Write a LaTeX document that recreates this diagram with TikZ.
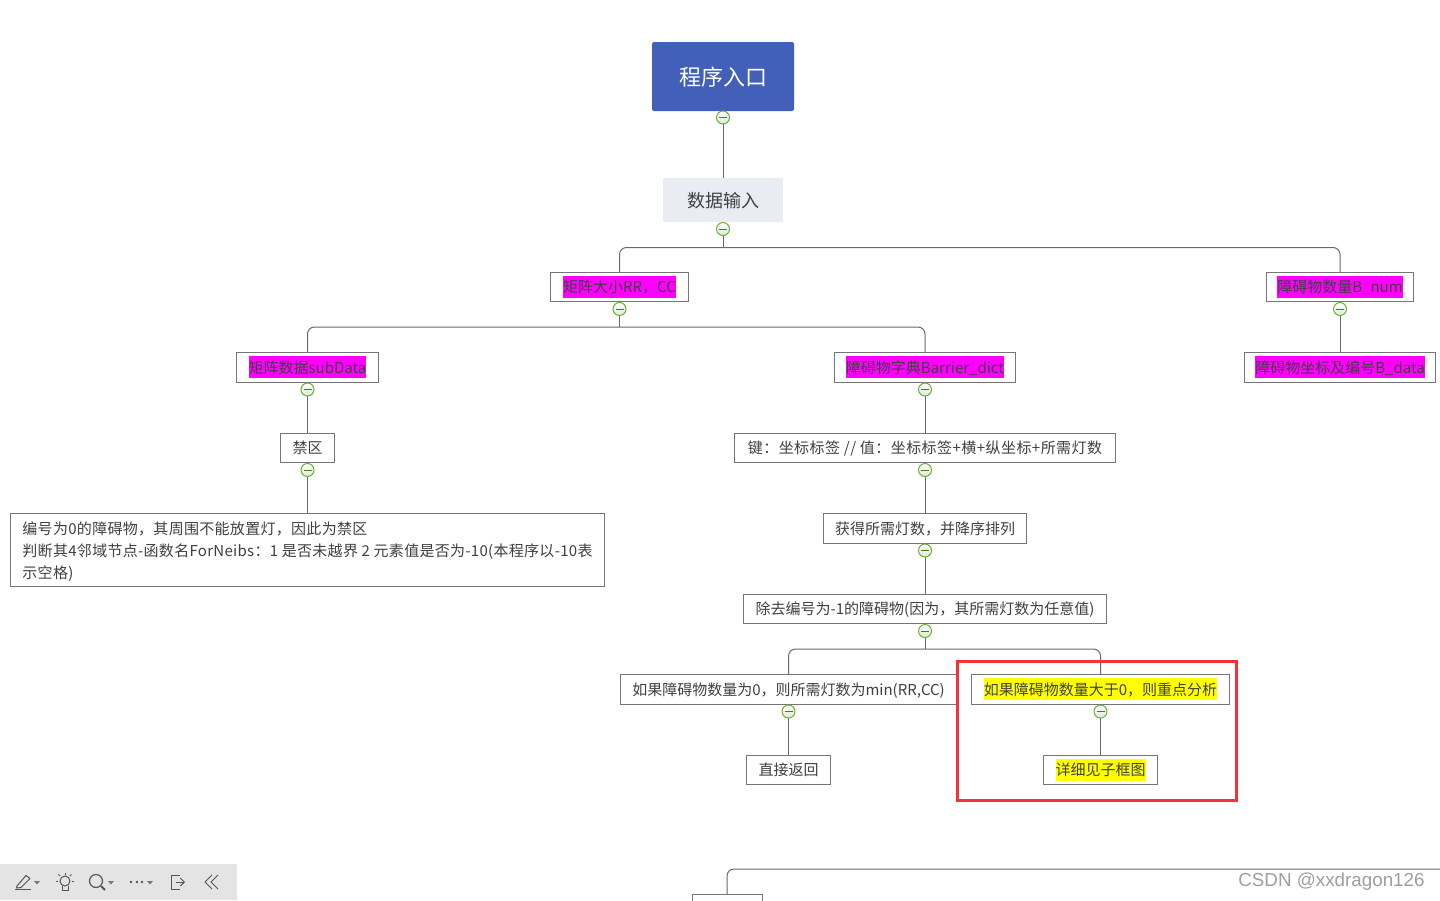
\documentclass[tikz,border=0pt]{standalone}
\usepackage{fontspec}
\usepackage{xcolor}
\setmainfont{Noto Sans CJK SC}
\newfontfamily\markfont{Liberation Sans}
\newfontfamily\widefont[LetterSpace=3]{Noto Sans CJK SC}
\newfontfamily\descfont[LetterSpace=2]{Noto Sans CJK SC}
\usetikzlibrary{positioning,arrows.meta}
\definecolor{entryblue}{RGB}{66,96,185}
\definecolor{inputgray}{RGB}{234,236,244}
\definecolor{boxgray}{RGB}{118,118,118}
\definecolor{linkgray}{RGB}{105,105,105}
\definecolor{textgray}{RGB}{64,64,64}
\definecolor{togglegreen}{RGB}{108,176,60}
\definecolor{barRed}{RGB}{245,50,55}
\definecolor{toolgray}{RGB}{228,228,228}
\definecolor{icongray}{RGB}{85,85,85}
\definecolor{hlpink}{RGB}{255,0,255}
\definecolor{hlyellow}{RGB}{255,255,0}
\newcommand{\boxfont}{\fontsize{7.5}{11}\selectfont}
\newcommand{\hlmark}[2]{{\setlength{\fboxsep}{0pt}\colorbox{#1}{\rule[-2.4pt]{0pt}{11pt}#2}}}
\tikzset{
  plainbox/.style={draw=boxgray, line width=0.5pt, fill=white, outer sep=0pt, inner sep=0pt,
              minimum height=14.75pt, align=center, font=\boxfont, text=textgray,
              text height=8.6pt, text depth=2.4pt},
  entrybox/.style={fill=entryblue, rounded corners=1pt, outer sep=0pt, minimum width=71pt,
              minimum height=34.5pt, font=\fontsize{11}{13}\selectfont, text=white,
              text height=10.5pt, text depth=1.1pt},
  inputbox/.style={fill=inputgray, outer sep=0pt, minimum width=60pt, minimum height=22pt,
              font=\fontsize{9}{11}\selectfont, text=textgray,
              text height=8.6pt, text depth=0.9pt},
  link/.style={draw=linkgray, line width=0.5pt},
  branch/.style={link, rounded corners=3.5pt},
  toggle/.style={circle, draw=togglegreen, line width=0.5pt, top color=white, bottom color=togglegreen!25,
              minimum size=6.5pt, inner sep=0pt, outer sep=0pt,
              path picture={\draw[togglegreen!70!black, line width=0.45pt]
                ([xshift=-2pt]path picture bounding box.center) -- ([xshift=2pt]path picture bounding box.center);}},
  redframe/.style={draw=barRed, line width=1.5pt},
  toolicon/.style={draw=icongray, line width=0.5pt},
}
\begin{document}
\begin{tikzpicture}[x=0.5pt, y=-0.5pt, node distance=25.5pt]
  \useasboundingbox (0,0) rectangle (1440,900);
  \clip (0,0) rectangle (1440,900);

  \node[entrybox] at (723,76.5)          (entry) {程序入口};
  \node[inputbox, below=33.5pt of entry] (input) {数据输入};

  \node[plainbox, minimum width=69.25pt, below=25pt of input, xshift=-51.75pt] (size)
       {\hlmark{hlpink}{矩阵大小RR，CC}};
  \node[plainbox, minimum width=73.75pt, below=25pt of input, xshift=308.5pt] (bnum)
       {\hlmark{hlpink}{障碍物数量B\_num}};
  \node[plainbox, minimum width=71.25pt, below=of size, xshift=-156pt] (subdata)
       {\hlmark{hlpink}{矩阵数据subData}};
  \node[plainbox, minimum width=90.25pt, below=of size, xshift=152.75pt] (dict)
       {\hlmark{hlpink}{障碍物字典Barrier\_dict}};
  \node[plainbox, minimum width=95.75pt, below=of bnum] (bdata)
       {\hlmark{hlpink}{障碍物坐标及编号B\_data}};

  \node[plainbox, minimum width=27.25pt, below=of subdata] (forbid) {禁区};
  \node[plainbox, minimum width=297.25pt, minimum height=36.5pt, below=of forbid, align=left,
        text height=30.6pt, text depth=2.4pt, font=\boxfont\descfont] (desc)
       {编号为0的障碍物，其周围不能放置灯，因此为禁区\\
        判断其4邻域节点-函数名ForNeibs：1 是否未越界 2 元素值是否为-10(本程序以-10表\\
        示空格)};

  \node[plainbox, minimum width=190.75pt, below=of dict, font=\boxfont\widefont] (keyval)
       {键：坐标标签 // 值：坐标标签+横+纵坐标+所需灯数};
  \node[plainbox, minimum width=101.75pt, below=of keyval] (sorted) {获得所需灯数，并降序排列};
  \node[plainbox, minimum width=181.75pt, below=of sorted] (remove) {除去编号为-1的障碍物(因为，其所需灯数为任意值)};

  \node[plainbox, minimum width=168pt, below=of remove, xshift=-68.25pt] (zero)
       {如果障碍物数量为0，则所需灯数为min(RR,CC)};
  \node[plainbox, minimum width=129.25pt, below=of remove, xshift=87.75pt] (major)
       {\hlmark{hlyellow}{如果障碍物数量大于0，则重点分析}};
  \node[plainbox, minimum width=42.25pt, below=of zero]  (back)   {直接返回};
  \node[plainbox, minimum width=57.25pt, below=of major] (detail) {\hlmark{hlyellow}{详细见子框图}};

  \node[plainbox, minimum width=35pt, minimum height=18pt] at (727,912) (next) {};

  \coordinate[below=12.75pt of input]  (businput);
  \coordinate[below=12.75pt of size]   (bussize);
  \coordinate[below=12.75pt of remove] (busremove);
  \coordinate (busnext) at (1440,869);

  \draw[link] (entry) -- (input);
  \draw[link] (input.south) -- (businput);
  \draw[branch] (size.north) |- (businput) -| (bnum.north);
  \draw[link] (size.south) -- (bussize);
  \draw[branch] (subdata.north) |- (bussize) -| (dict.north);
  \draw[link] (bnum) -- (bdata);
  \draw[link] (subdata) -- (forbid);
  \draw[link] (forbid) -- (desc);
  \draw[link] (dict) -- (keyval);
  \draw[link] (keyval) -- (sorted);
  \draw[link] (sorted) -- (remove);
  \draw[link] (remove.south) -- (busremove);
  \draw[branch] (zero.north) |- (busremove) -| (major.north);
  \draw[link] (zero) -- (back);
  \draw[link] (major) -- (detail);
  \draw[branch] (next.north) |- (busnext);

  \node[toggle, below=0pt of entry]     (tentry) {};
  \node[toggle, below=0.25pt of input]  (tinput) {};
  \node[toggle, below=0.5pt of size]    (tsize) {};
  \node[toggle, below=0.5pt of bnum]    (tbnum) {};
  \node[toggle, below=0.5pt of subdata] (tsubdata) {};
  \node[toggle, below=0.5pt of dict]    (tdict) {};
  \node[toggle, below=0.5pt of forbid]  (tforbid) {};
  \node[toggle, below=0.5pt of keyval]  (tkeyval) {};
  \node[toggle, below=0.5pt of sorted]  (tsorted) {};
  \node[toggle, below=0.5pt of remove]  (tremove) {};
  \node[toggle, below=0.5pt of zero]    (tzero) {};
  \node[toggle, below=0.5pt of major]   (tmajor) {};

  \draw[redframe] (957.5,661) rectangle (1236,800.5);

  % toolbar
  \fill[toolgray] (0,864) rectangle (237,900);
  \draw[toolicon] (15,889.5) -- (31,889.5);
  \draw[toolicon, line join=round] (17,886) -- (26,875.5) -- (30,878.5) -- (21,887.5) -- (16.5,888) -- cycle;
  \foreach \tx in {37,111,150}
    \fill[icongray!80] (\tx-3,881) -- (\tx+3,881) -- (\tx,884.5) -- cycle;
  \draw[toolicon] (65,881) circle[radius=5];
  \draw[toolicon] (62,886) -- (62,890) -- (68,890) -- (68,886);
  \foreach \ax/\ay/\bx/\by in {65/875/65/873, 58/881/56/881, 72/881/74/881, 60/876/58.5/874.5, 70/876/71.5/874.5}
    \draw[toolicon] (\ax,\ay) -- (\bx,\by);
  \draw[toolicon, line width=0.6pt] (96,881) circle[radius=6.5];
  \draw[toolicon, line width=1pt] (101,886) -- (105,890);
  \foreach \dx in {131,137,142}
    \fill[icongray] (\dx,882) circle[radius=1.4];
  \draw[toolicon] (180,875.5) -- (171,875.5) -- (171,889.5) -- (180,889.5);
  \draw[toolicon, -{Straight Barb[length=2pt,width=4pt]}] (176,882) -- (185,882);
  \draw[toolicon] (212,875) -- (205,882) -- (212,889);
  \draw[toolicon] (218,875) -- (211,882) -- (218,889);

  \node[text=black!38, font=\markfont\fontsize{9.4}{12}\selectfont, anchor=east, inner sep=0pt] at (1425,882) (watermark)
       {CSDN @xxdragon126};
\end{tikzpicture}
\end{document}
